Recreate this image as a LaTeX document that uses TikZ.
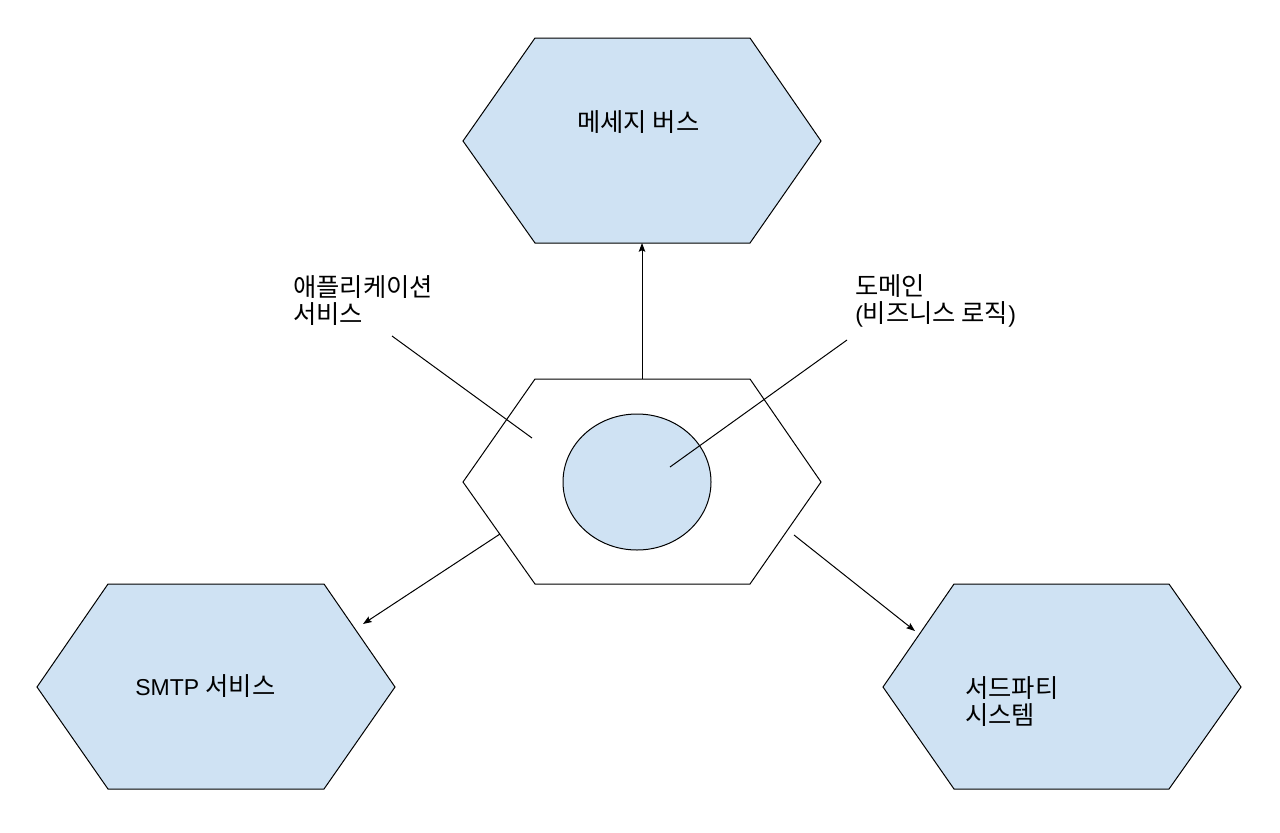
\documentclass[tikz,border=0pt]{standalone}
\usepackage{fontspec}
\setmainfont{Liberation Sans}
\newfontfamily\kr{Noto Sans CJK KR}[Scale=1.1]
\usetikzlibrary{arrows.meta,shapes.geometric}
\definecolor{hexblue}{HTML}{CFE2F3}
\tikzset{
  hexshape/.style={draw=black, line width=0.75pt, line join=miter},
  bluehex/.style={hexshape, fill=hexblue},
  lbl/.style={inner sep=0pt, anchor=base west, align=left,
    font=\fontsize{17.25pt}{20.25pt}\selectfont},
  conn/.style={draw=black, line width=0.75pt},
  arr/.style={conn, -{Stealth[length=6.5pt,width=4.8pt,inset=1pt]}}
}
\begin{document}
\begin{tikzpicture}[x=0.75pt,y=-0.75pt]
\useasboundingbox (0,0) rectangle (1280,832);
% top hexagon
\coordinate (topL) at (463,141); \coordinate (topTL) at (535,38);
\coordinate (topTR) at (750,38); \coordinate (topR) at (821,141);
\coordinate (topBR) at (750,243); \coordinate (topBL) at (535,243);
\path[bluehex] (topL) -- (topTL) -- (topTR) -- (topR) -- (topBR) -- (topBL) -- cycle;
% center hexagon
\coordinate (cL) at (463,482); \coordinate (cTL) at (535,379);
\coordinate (cTR) at (750,379); \coordinate (cR) at (821,482);
\coordinate (cBR) at (750,584); \coordinate (cBL) at (535,584);
\path[hexshape, fill=white] (cL) -- (cTL) -- (cTR) -- (cR) -- (cBR) -- (cBL) -- cycle;
% smtp hexagon
\coordinate (sL) at (37,687); \coordinate (sTL) at (108,584);
\coordinate (sTR) at (324,584); \coordinate (sR) at (395,687);
\coordinate (sBR) at (324,789); \coordinate (sBL) at (108,789);
\path[bluehex] (sL) -- (sTL) -- (sTR) -- (sR) -- (sBR) -- (sBL) -- cycle;
% third party hexagon
\coordinate (tL) at (883,687); \coordinate (tTL) at (954,584);
\coordinate (tTR) at (1169,584); \coordinate (tR) at (1241,687);
\coordinate (tBR) at (1169,789); \coordinate (tBL) at (954,789);
\path[bluehex] (tL) -- (tTL) -- (tTR) -- (tR) -- (tBR) -- (tBL) -- cycle;
% domain ellipse
\node[draw=black, line width=0.75pt, fill=hexblue, ellipse, inner sep=0pt,
  minimum width=111pt, minimum height=102pt] (dom) at (637,482) {};
% labels
\node[lbl] (tmsg) at (577,131) {\kr 메세지 버스};
\node[lbl] (tapp) at (293,323) {\kr 애플리케이션\\\kr 서비스};
\node[lbl] (tdom) at (855,322) {\kr 도메인\\({\kr 비즈니스 로직})};
\node[lbl] (tsmtp) at (135,695) {SMTP {\kr 서비스}};
\node[lbl] (tthird) at (965,724) {\kr 서드파티\\\kr 시스템};
% label lines
\coordinate (appA) at (392,336); \coordinate (appB) at (532,438);
\coordinate (domA) at (847,340); \coordinate (domB) at (670,467);
\draw[conn] (appA) -- (appB);
\draw[conn] (domA) -- (domB);
% arrows
\coordinate (upS) at (642,379); \coordinate (upE) at (642,243);
\coordinate (lS) at (500,534); \coordinate (lE) at (363,624);
\coordinate (rS) at (794,535); \coordinate (rE) at (915,631);
\draw[arr] (upS) -- (upE);
\draw[arr] (lS) -- (lE);
\draw[arr] (rS) -- (rE);
\end{tikzpicture}
\end{document}
